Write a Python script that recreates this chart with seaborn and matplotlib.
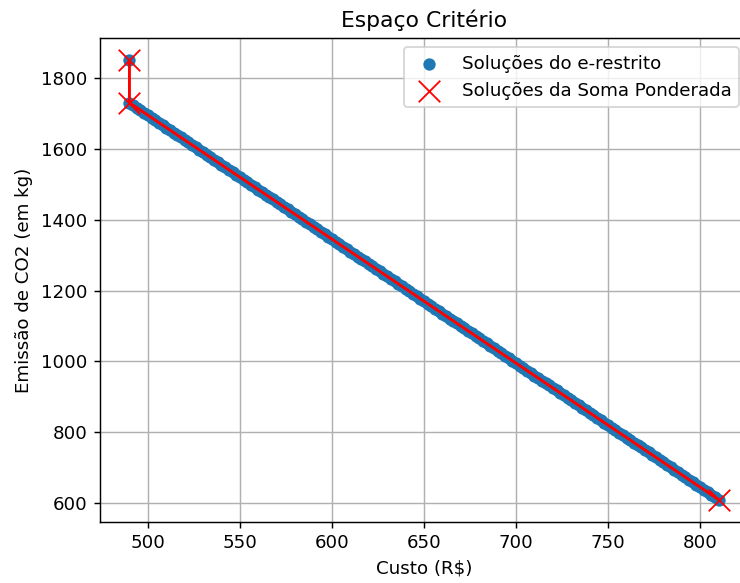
import matplotlib
matplotlib.use("Agg")
import matplotlib.pyplot as plt
import seaborn as sns
import pandas as pd

# e-restrito solutions (Custo, Emissão)
custo_eps = [490,
             490, 492, 494, 496, 498, 500, 502, 504, 506, 508,
             510, 512, 514, 516, 518, 520, 522, 524, 526, 528,
             530, 532, 534, 536, 538, 540, 542, 544, 546, 548,
             550, 552, 554, 556, 558, 560, 562, 564, 566, 568,
             570, 572, 574, 576, 578, 580, 582, 584, 586, 588,
             590, 592, 594, 596, 598, 600, 602, 604, 606, 608,
             610, 612, 614, 616, 618, 620, 622, 624, 626, 628,
             630, 632, 634, 636, 638, 640, 642, 644, 646, 648,
             650, 652, 654, 656, 658, 660, 662, 664, 666, 668,
             670, 672, 674, 676, 678, 680, 682, 684, 686, 688,
             690, 692, 694, 696, 698, 700, 702, 704, 706, 708,
             710, 712, 714, 716, 718, 720, 722, 724, 726, 728,
             730, 732, 734, 736, 738, 740, 742, 744, 746, 748,
             750, 752, 754, 756, 758, 760, 762, 764, 766, 768,
             770, 772, 774, 776, 778, 780, 782, 784, 786, 788,
             790, 792, 794, 796, 798, 800, 802, 804, 806, 808,
             810]
emissao_eps = [1850,
               1730, 1723, 1716, 1709, 1702, 1695, 1688, 1681, 1674, 1667,
               1660, 1653, 1646, 1639, 1632, 1625, 1618, 1611, 1604, 1597,
               1590, 1583, 1576, 1569, 1562, 1555, 1548, 1541, 1534, 1527,
               1520, 1513, 1506, 1499, 1492, 1485, 1478, 1471, 1464, 1457,
               1450, 1443, 1436, 1429, 1422, 1415, 1408, 1401, 1394, 1387,
               1380, 1373, 1366, 1359, 1352, 1345, 1338, 1331, 1324, 1317,
               1310, 1303, 1296, 1289, 1282, 1275, 1268, 1261, 1254, 1247,
               1240, 1233, 1226, 1219, 1212, 1205, 1198, 1191, 1184, 1177,
               1170, 1163, 1156, 1149, 1142, 1135, 1128, 1121, 1114, 1107,
               1100, 1093, 1086, 1079, 1072, 1065, 1058, 1051, 1044, 1037,
               1030, 1023, 1016, 1009, 1002, 995, 988, 981, 974, 967,
               960, 953, 946, 939, 932, 925, 918, 911, 904, 897,
               890, 883, 876, 869, 862, 855, 848, 841, 834, 827,
               820, 813, 806, 799, 792, 785, 778, 771, 764, 757,
               750, 743, 736, 729, 722, 715, 708, 701, 694, 687,
               680, 673, 666, 659, 652, 645, 638, 631, 624, 617,
               610]

# Weighted-sum solutions
custo_ws = [490, 490, 810]
emissao_ws = [1850, 1730, 610]

df_eps = pd.DataFrame({"custo": custo_eps, "emissao": emissao_eps})
df_ws = pd.DataFrame({"custo": custo_ws, "emissao": emissao_ws})

DPI = 131
fig = plt.figure(figsize=(740 / DPI, 583 / DPI), dpi=DPI)
ax = fig.add_axes([100 / 740, 61.5 / 583, 648 / 740, 483.2 / 583])

sns.scatterplot(data=df_eps, x="custo", y="emissao", ax=ax, color="#1f77b4",
                s=46, linewidth=0, label="Soluções do e-restrito", zorder=2)
sns.lineplot(data=df_ws, x="custo", y="emissao", ax=ax, sort=False, estimator=None,
             color="red", linewidth=1.6, zorder=3, legend=False)
sns.scatterplot(data=df_ws, x="custo", y="emissao", ax=ax, marker="x", color="red",
                s=140, linewidth=1.0, label="Soluções da Soma Ponderada", zorder=4)

ax.set_xlim(474, 826)
ax.set_ylim(548, 1912)
ax.grid(True, color="#b0b0b0", linewidth=0.8)
ax.set_axisbelow(True)
ax.set_title("Espaço Critério", fontsize=12)
ax.set_xlabel("Custo (R$)", fontsize=10)
ax.set_ylabel("Emissão de CO2 (em kg)", fontsize=10)
ax.legend(loc="upper right", fontsize=10)

fig.savefig("out.png", dpi=DPI)
